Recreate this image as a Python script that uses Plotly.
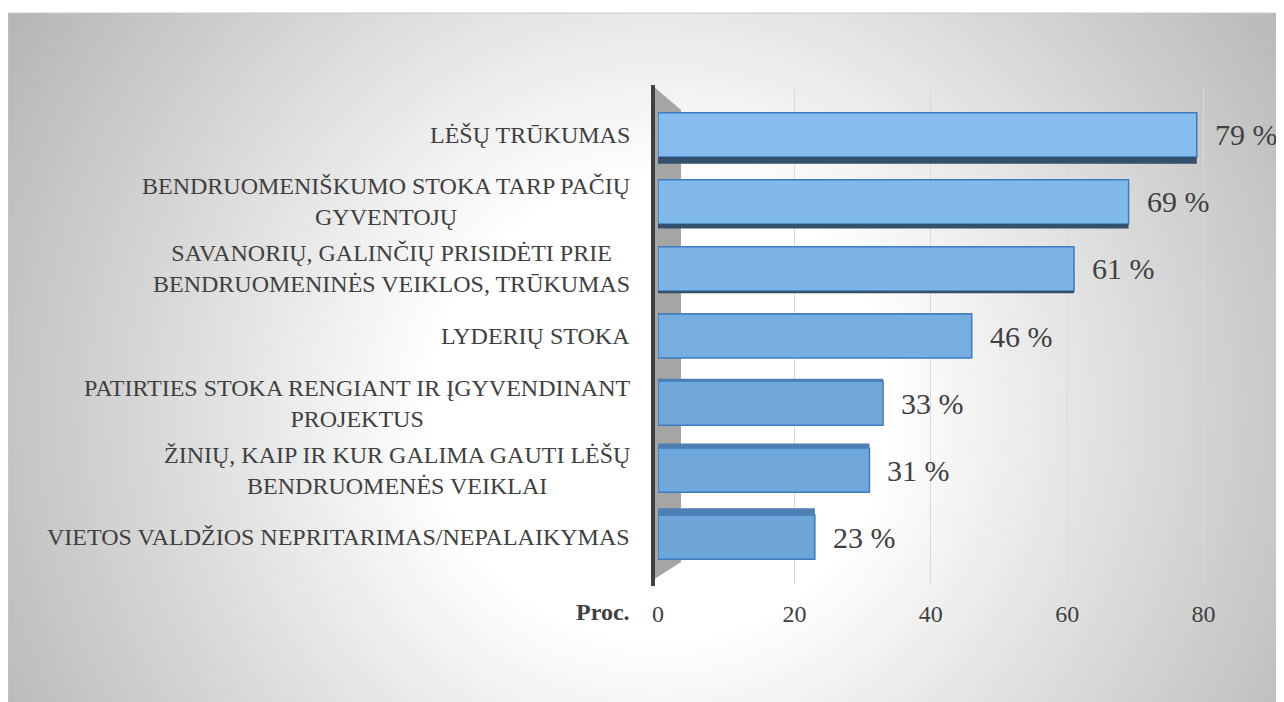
import base64
import plotly.graph_objects as go

# ---- data ----
categories = [
    "LĖŠŲ TRŪKUMAS",
    "BENDRUOMENIŠKUMO STOKA TARP PAČIŲ<br>GYVENTOJŲ",
    "SAVANORIŲ, GALINČIŲ PRISIDĖTI PRIE<br>BENDRUOMENINĖS VEIKLOS, TRŪKUMAS",
    "LYDERIŲ STOKA",
    "PATIRTIES STOKA RENGIANT IR ĮGYVENDINANT<br>PROJEKTUS",
    "ŽINIŲ, KAIP IR KUR GALIMA GAUTI LĖŠŲ<br>BENDRUOMENĖS VEIKLAI",
    "VIETOS VALDŽIOS NEPRITARIMAS/NEPALAIKYMAS",
]
values = [79, 69, 61, 46, 33, 31, 23]
value_labels = ["79 %", "69 %", "61 %", "46 %", "33 %", "31 %", "23 %"]
tick_vals = [0, 20, 40, 60, 80]
axis_title = "Proc."

# ---- geometry: screen pixels -> figure pixels (page has 8px body margin) ----
OFF = 8
SW, SH = 1284, 702
W, H = SW - OFF, SH - OFF
SL, SR, ST, SB = 658, 1284, 88, 584
L = SL - OFF
T = ST - OFF
PW = SR - SL
PH = SB - ST
R = W - L - PW
B = H - T - PH
PX_PER_UNIT = 6.82
XMAX = PW / PX_PER_UNIT
CAT_PX = PH / 7.4  # pixels per category unit


def xp(px):  # screen x -> paper
    return (px - SL) / PW


def yp(py):  # screen y -> paper
    return (SB - py) / PH


FONT = "Liberation Serif"
TXT = "#404040"

bar_colors = ["#86bdee", "#81b9ea", "#7cb4e6", "#76aee1", "#70a8dc", "#70a8dc", "#6ea5d9"]
BAR_W = 0.66

fig = go.Figure()
fig.add_trace(go.Bar(
    x=values,
    y=categories,
    orientation="h",
    marker=dict(color=bar_colors, line=dict(color="#3b7dc0", width=1.5)),
    width=BAR_W,
    hoverinfo="x+y",
))

# perspective faces (bottom faces above eye level, top faces below)
face_w, face_off, face_col = [], [], []
n = len(values)
for i in range(n):
    h = abs((n - 1) / 2 - i) * 2.2 / CAT_PX
    if i < (n - 1) / 2:
        face_off.append(BAR_W / 2)
        face_col.append("#34506f")
    else:
        face_off.append(-BAR_W / 2 - h)
        face_col.append("#4d7fb3")
    face_w.append(max(h, 1e-6))
fig.add_trace(go.Bar(
    x=values, y=categories, orientation="h",
    width=face_w, offset=face_off,
    marker=dict(color=face_col, line=dict(width=0)),
    hoverinfo="skip",
))

bx0, by0 = 8, 13
bw, bh = SW - bx0 + 4, SH - by0 + 4
svg = f'''<svg xmlns="http://www.w3.org/2000/svg" width="{bw}" height="{bh}" viewBox="0 0 {bw} {bh}">
<defs><radialGradient id="g" gradientUnits="userSpaceOnUse" cx="{660-bx0}" cy="{410-by0}" r="760">
<stop offset="0" stop-color="#ffffff"/><stop offset="0.3" stop-color="#ffffff"/>
<stop offset="1" stop-color="#b5b5b5"/></radialGradient></defs>
<rect x="0" y="0" width="{bw}" height="{bh}" fill="url(#g)"/></svg>'''
src = "data:image/svg+xml;base64," + base64.b64encode(svg.encode()).decode()
fig.add_layout_image(dict(
    source=src, xref="paper", yref="paper",
    x=xp(bx0), y=yp(by0), sizex=bw / PW, sizey=bh / PH,
    xanchor="left", yanchor="top", sizing="stretch", layer="below",
))

shapes = []
shapes.append(dict(type="rect", xref="paper", yref="paper",
                   x0=xp(bx0), x1=xp(SW + 5), y0=yp(by0), y1=yp(SH + 5),
                   line=dict(color="#c8c8c8", width=1), fillcolor="rgba(0,0,0,0)", layer="below"))
wall = (f"M {xp(653)},{yp(86)} L {xp(681)},{yp(110)} L {xp(681)},{yp(562)} "
        f"L {xp(653)},{yp(580)} Z")
shapes.append(dict(type="path", xref="paper", yref="paper", path=wall,
                   fillcolor="#a5a5a5", line=dict(width=0), layer="below"))
shapes.append(dict(type="line", xref="paper", yref="paper",
                   x0=xp(653), x1=xp(653), y0=yp(85), y1=yp(586),
                   line=dict(color="#404040", width=4), layer="above"))

annotations = []
for c in categories:
    annotations.append(dict(
        x=xp(632), xref="paper", y=c, yref="y", text=c, showarrow=False,
        xanchor="right", yanchor="middle", align="center",
        font=dict(family=FONT, size=24, color=TXT),
    ))
for c, v, t in zip(categories, values, value_labels):
    annotations.append(dict(
        x=v, xref="x", y=c, yref="y", text=t, showarrow=False,
        xanchor="left", yanchor="middle", xshift=16,
        font=dict(family=FONT, size=30, color=TXT),
    ))
annotations.append(dict(
    x=xp(632), xref="paper", y=yp(612), yref="paper", text=f"<b>{axis_title}</b>",
    showarrow=False, xanchor="right", yanchor="middle",
    font=dict(family=FONT, size=24, color=TXT),
))

fig.update_layout(
    width=W, height=H,
    margin=dict(l=L, r=R, t=T, b=B, pad=0),
    paper_bgcolor="white",
    plot_bgcolor="rgba(0,0,0,0)",
    font=dict(family=FONT, color=TXT),
    showlegend=False,
    barmode="overlay",
    shapes=shapes,
    annotations=annotations,
    xaxis=dict(
        range=[0, XMAX], tickvals=tick_vals, showgrid=True,
        gridcolor="#d9d9d9", gridwidth=1, zeroline=False, showline=False,
        tickfont=dict(family=FONT, size=24, color=TXT), ticks="",
        ticklabelstandoff=13, fixedrange=True,
    ),
    yaxis=dict(
        type="category", categoryorder="array", categoryarray=categories,
        range=[6.7, -0.7], showticklabels=False, showgrid=False,
        zeroline=False, showline=False, ticks="", fixedrange=True,
    ),
)

fig.write_html("out.html")
